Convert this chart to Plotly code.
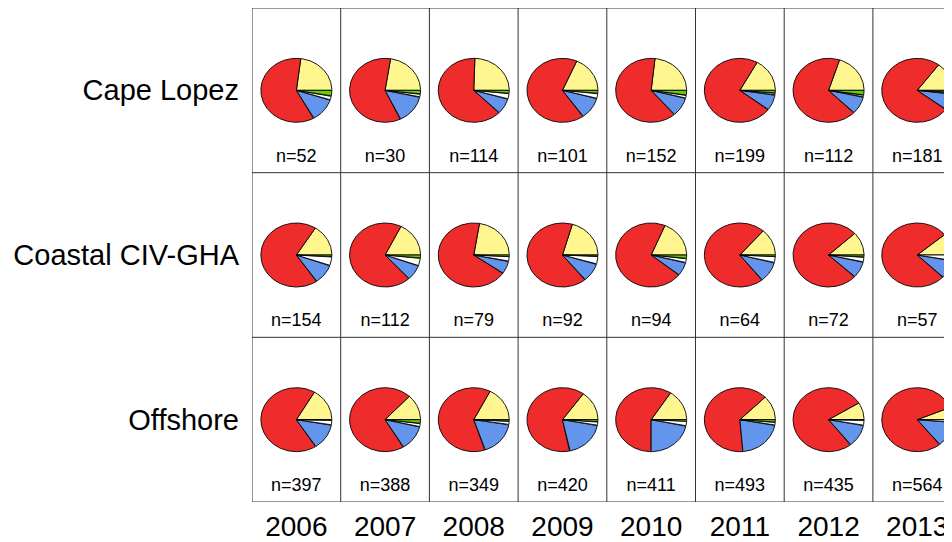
import math
import plotly.graph_objects as go

years = ["2006", "2007", "2008", "2009", "2010", "2011", "2012", "2013"]
regions = ["Cape Lopez", "Coastal CIV-GHA", "Offshore"]
sample_n = [
    [52, 30, 114, 101, 152, 199, 112, 181],
    [154, 112, 79, 92, 94, 64, 72, 57],
    [397, 388, 349, 420, 411, 493, 435, 564],
]
# category shares (%) per region (rows) and year (columns)
yellow = [
    [23, 22.5, 24.5, 18.3, 23.3, 17, 20, 14.7],
    [16, 17.6, 22.4, 20.4, 18.6, 13.6, 11.8, 11],
    [16.5, 13, 17.4, 15, 15.8, 12.4, 8.75, 6.25],
]
red = [
    [60, 59.5, 63, 66, 63, 73, 67.5, 75],
    [68.5, 69, 67.8, 65, 70.3, 72, 76.2, 76.7],
    [67.5, 70.5, 62.6, 63.2, 59.2, 63.9, 76.8, 79.5],
]
blue = [
    [12, 14.5, 8, 11, 9.7, 8, 9, 8.3],
    [10, 7.8, 6.5, 9.4, 6.8, 10.4, 8.3, 9.3],
    [13.2, 12.8, 17.4, 18.8, 21.7, 20.7, 11.5, 12.9],
]
white = [
    [2, 1.5, 2.8, 2.5, 1.5, 1, 1, 0.8],
    [4.5, 3.9, 2.5, 3.9, 2.1, 3.2, 2.5, 3],
    [2.6, 1.7, 1.7, 1.8, 2.5, 1.5, 2.8, 1.4],
]
green = [
    [3, 2, 1.7, 1.7, 2.6, 1.5, 2.5, 1.2],
    [1, 1.7, 0.8, 0.8, 1.9, 0.8, 1.2, 0],
    [0.2, 2, 0.9, 1.2, 0.8, 1.4, 0.2, 0],
]

categories = [
    ("yellow", yellow, "#FFF68F"),
    ("red", red, "#EE2C2C"),
    ("blue", blue, "#6495ED"),
    ("white", white, "#FFFFFF"),
    ("green", green, "#66CD00"),
]

ncol = len(years)
nrow = len(regions)
col_px = 88.7
row_px = 164.67
plot_w = 700
rx = 35.5 / col_px
ry = 32.0 / row_px

fig = go.Figure()

# build slice polygons
slices = {name: ([], []) for name, _, _ in categories}
for r in range(nrow):
    cy = nrow - r - 0.5
    for c in range(ncol):
        cx = c + 0.5
        total = sum(cat[r][c] for _, cat, _ in categories)
        start = 0.0
        for name, cat, col in categories:
            v = cat[r][c]
            if v <= 0:
                continue
            span = 360.0 * v / total
            n = max(2, int(math.ceil(span)))
            xs, ys = slices[name]
            xs.append(cx); ys.append(cy)
            for k in range(n + 1):
                a = math.radians(start + span * k / n)
                xs.append(cx + rx * math.cos(a))
                ys.append(cy + ry * math.sin(a))
            xs.append(cx); ys.append(cy)
            xs.append(None); ys.append(None)
            start += span

for name, _, col in categories:
    xs, ys = slices[name]
    fig.add_trace(go.Scatter(
        x=xs, y=ys, mode="lines", fill="toself", fillcolor=col,
        line=dict(color="black", width=0.9), hoverinfo="skip", showlegend=False,
    ))

# n labels
tx, ty, tt = [], [], []
for r in range(nrow):
    for c in range(ncol):
        tx.append(c + 0.5)
        ty.append(nrow - r - 0.905)
        tt.append(f"n={sample_n[r][c]}")
fig.add_trace(go.Scatter(
    x=tx, y=ty, text=tt, mode="text", textposition="middle center",
    textfont=dict(size=18, color="black", family="Liberation Sans, Arial"),
    hoverinfo="skip", showlegend=False,
))

# panel borders
shapes = []
for c in range(ncol + 1):
    shapes.append(dict(type="line", xref="x", yref="y", x0=c, x1=c, y0=0, y1=nrow,
                       line=dict(color="#333333", width=1)))
for r in range(nrow + 1):
    shapes.append(dict(type="line", xref="x", yref="y", x0=0, x1=ncol, y0=r, y1=r,
                       line=dict(color="#333333", width=1)))

fig.update_layout(
    width=944, height=534,
    margin=dict(l=244, r=0, t=0, b=40),
    paper_bgcolor="white", plot_bgcolor="white",
    font=dict(family="Liberation Sans, Arial", color="black"),
    shapes=shapes,
    xaxis=dict(range=[0, plot_w / col_px], showgrid=False, zeroline=False, showline=False,
               tickvals=[c + 0.5 for c in range(ncol)], ticktext=years, automargin=False,
               tickfont=dict(size=28), ticks="", ticklabelstandoff=5, fixedrange=True),
    yaxis=dict(range=[0, nrow], showgrid=False, zeroline=False, showline=False,
               tickvals=[nrow - r - 0.5 for r in range(nrow)], ticktext=regions, automargin=False,
               tickfont=dict(size=29), ticks="", ticklabelstandoff=12, fixedrange=True),
)

fig.write_html("out.html")
